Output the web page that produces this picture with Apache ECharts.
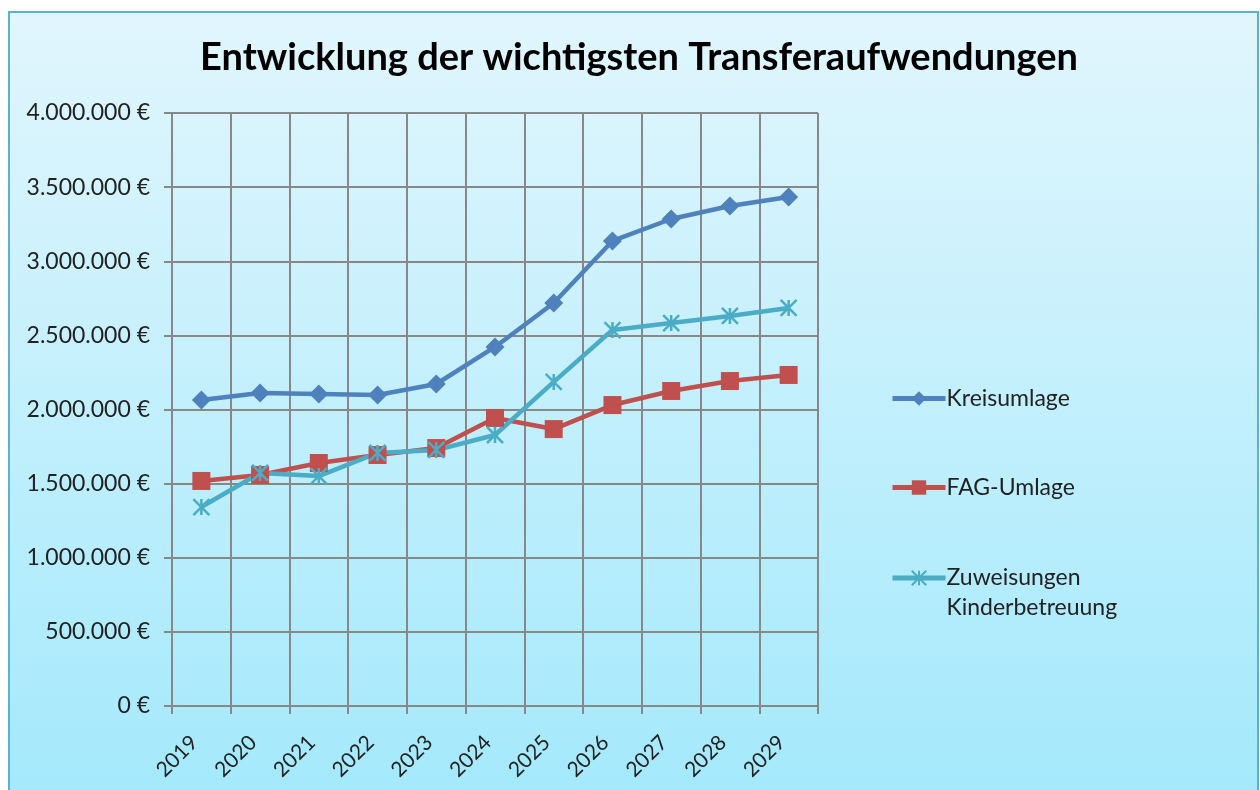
<!DOCTYPE html>
<html>
<head>
<meta charset="utf-8">
<script src="https://cdn.jsdelivr.net/npm/echarts@6/dist/echarts.min.js"></script>
<style>
	html, body { margin: 0; padding: 0; background: #ffffff; }
	#chart { width: 1260px; height: 790px; }
</style>
</head>
<body>
<div id="chart"></div>
<script>
var years = ['2019', '2020', '2021', '2022', '2023', '2024', '2025', '2026', '2027', '2028', '2029'];
var kreisumlage = [2064000, 2111000, 2105000, 2098000, 2172000, 2422000, 2718000, 3137000, 3285000, 3373000, 3433000];
var fagUmlage = [1518000, 1558000, 1639000, 1693000, 1740000, 1943000, 1868000, 2030000, 2125000, 2192000, 2233000];
var zuweisungen = [1342000, 1572000, 1551000, 1707000, 1727000, 1828000, 2186000, 2536000, 2583000, 2631000, 2685000];

var font = 'Lato';
var asterisk = 'path://M0,0 L10,10 M10,0 L0,10 M5,0 L5,10';

function euro(v) {
	return String(v).replace(/\B(?=(\d{3})+(?!\d))/g, '.') + ' €';
}

function legendItem(name, top, extra) {
	var l = {
		orient: 'vertical',
		left: 890,
		top: top,
		padding: 0,
		itemWidth: 53,
		itemHeight: 18,
		data: [name],
		lineStyle: { width: 5 },
		textStyle: { fontFamily: font, fontSize: 23, color: '#222222', padding: [0, 0, 0, -4] }
	};
	if (extra) {
		l.textStyle.lineHeight = 30;
		l.formatter = function(n) { return ' \n' + n; };
	}
	return l;
}

var myChart = echarts.init(document.getElementById('chart'));
var option = {
	animation: false,
	backgroundColor: '#ffffff',
	graphic: [{
		type: 'rect',
		z: -10,
		shape: { x: 9, y: 12, width: 1249, height: 790 },
		style: {
			fill: new echarts.graphic.LinearGradient(0, 0, 0, 1, [
				{ offset: 0, color: '#e1f6fd' },
				{ offset: 1, color: '#a3e9fc' }
			]),
			stroke: '#5ab3cc',
			lineWidth: 2
		}
	}],
	title: {
		text: 'Entwicklung der wichtigsten Transferaufwendungen',
		left: 634,
		top: 34,
		textAlign: 'center',
		textStyle: { fontFamily: font, fontSize: 38, fontWeight: 'bold', color: '#000000' }
	},
	legend: [
		legendItem('Kreisumlage', 387),
		legendItem('FAG-Umlage', 476),
		legendItem('Zuweisungen\nKinderbetreuung', 533, true)
	],
	grid: { left: 172, top: 113, width: 646, height: 593, containLabel: false },
	xAxis: {
		type: 'category',
		data: years,
		boundaryGap: true,
		axisLine: { lineStyle: { color: '#888888', width: 2 } },
		axisTick: { show: true, length: 8, lineStyle: { color: '#888888', width: 2 } },
		axisLabel: { rotate: 45, margin: 26, padding: [0, 10, 0, 0], fontFamily: font, fontSize: 21, color: '#222222', interval: 0 },
		splitLine: { show: true, lineStyle: { color: '#888888', width: 2 } }
	},
	yAxis: {
		type: 'value',
		min: 0,
		max: 4000000,
		interval: 500000,
		axisLine: { show: true, lineStyle: { color: '#888888', width: 2 } },
		axisTick: { show: true, length: 8, lineStyle: { color: '#888888', width: 2 } },
		axisLabel: { margin: 22, fontFamily: font, fontSize: 23, color: '#222222', formatter: euro },
		splitLine: { show: true, lineStyle: { color: '#888888', width: 2 } }
	},
	series: [{
		name: 'Kreisumlage',
		type: 'line',
		data: kreisumlage,
		symbol: 'diamond',
		symbolSize: 19,
		lineStyle: { width: 4.5, color: '#4f81bd' },
		itemStyle: { color: '#4f81bd' }
	}, {
		name: 'FAG-Umlage',
		type: 'line',
		data: fagUmlage,
		symbol: 'rect',
		symbolSize: 18,
		lineStyle: { width: 4.5, color: '#c0504d' },
		itemStyle: { color: '#c0504d' }
	}, {
		name: 'Zuweisungen\nKinderbetreuung',
		type: 'line',
		data: zuweisungen,
		symbol: asterisk,
		symbolSize: 16,
		lineStyle: { width: 4.5, color: '#4bacc6' },
		itemStyle: { color: '#4bacc6', borderColor: '#4bacc6', borderWidth: 2.5 }
	}]
};
myChart.setOption(option);
</script>
</body>
</html>
